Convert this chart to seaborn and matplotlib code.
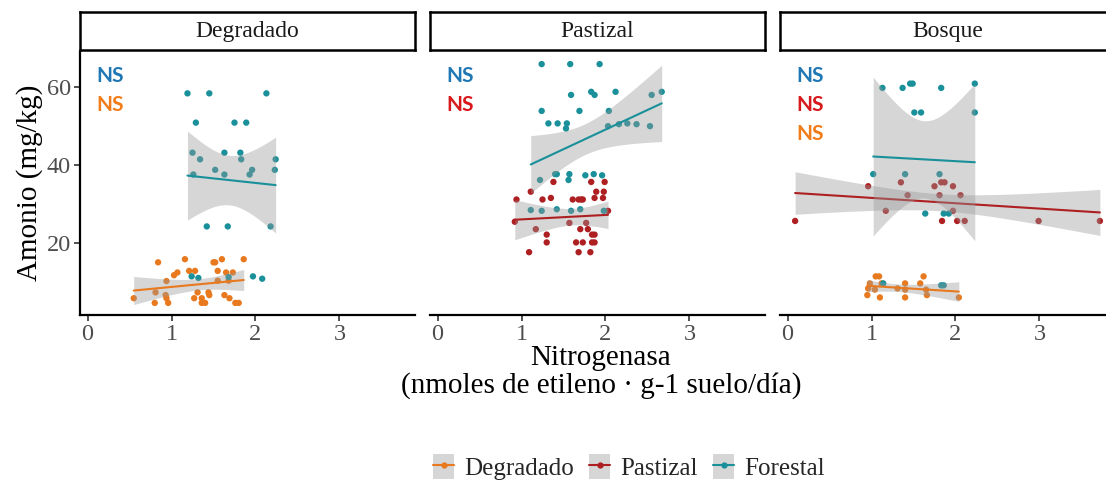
import numpy as np
import pandas as pd
import matplotlib
matplotlib.use("Agg")
import matplotlib.pyplot as plt
import seaborn as sns
from matplotlib.patches import Patch
from matplotlib.lines import Line2D
from matplotlib.legend_handler import HandlerTuple

# ---------------- data ----------------
panels = ["Degradado", "Pastizal", "Bosque"]
groups = ["Degradado", "Pastizal", "Forestal"]

# Panel "Degradado"
deg_degradado_x = [0.84, 1.16, 1.50, 1.52, 1.60, 1.86, 1.07, 1.03, 1.21, 1.28, 1.55, 1.65, 1.73, 0.94, 1.55, 1.68,
                   0.55, 0.81, 0.93, 0.94, 0.80, 0.96, 1.31, 1.27, 1.36, 1.44, 1.45, 1.36, 1.40, 1.63, 1.69, 1.76, 1.80]
deg_degradado_y = [15.1, 15.9, 15.1, 15.1, 15.9, 15.9, 12.5, 11.8, 12.9, 12.9, 12.9, 12.5, 12.5, 10.3, 10.4, 10.4,
                   5.9, 7.4, 6.7, 5.9, 4.7, 4.7, 7.4, 5.9, 5.9, 7.4, 6.7, 4.7, 4.7, 6.7, 5.9, 4.7, 4.7]
deg_forestal_x = [1.19, 1.45, 2.13, 1.29, 1.75, 1.89, 1.25, 1.34, 1.63, 1.82, 1.83, 2.24, 1.26, 1.52, 1.63, 1.93,
                  1.96, 2.23, 1.42, 1.67, 2.18, 1.24, 1.32, 1.68, 1.97, 2.08]
deg_forestal_y = [58.4, 58.4, 58.4, 50.9, 50.9, 50.9, 43.2, 41.5, 43.2, 43.2, 41.5, 41.5, 37.6, 38.8, 37.6, 37.6,
                  38.8, 38.8, 24.3, 24.3, 24.3, 11.5, 11.1, 11.3, 11.5, 10.9]

# Panel "Pastizal"
pas_pastizal_x = [1.38, 1.83, 1.99, 1.11, 1.89, 1.98, 0.94, 1.25, 1.35, 1.61, 1.68, 1.71, 1.73, 1.87, 1.97, 0.92,
                  1.17, 1.57, 1.77, 1.70, 1.79, 2.03, 1.30, 1.30, 1.65, 1.73, 1.84, 1.87, 1.84, 1.87, 1.09, 1.68, 1.82]
pas_pastizal_y = [35.7, 35.7, 35.7, 33.2, 33.2, 33.2, 31.2, 31.2, 31.6, 31.2, 31.2, 31.2, 31.2, 31.6, 31.6, 25.5,
                  23.6, 25.2, 25.2, 23.6, 23.6, 28.3, 22.2, 20.2, 20.2, 20.2, 22.2, 22.2, 20.2, 20.2, 17.7, 17.7, 17.7]
pas_forestal_x = [1.24, 1.58, 1.93, 1.59, 1.83, 1.87, 2.12, 2.55, 2.67, 1.24, 1.69, 2.04, 1.32, 1.43, 1.53, 1.54,
                  2.03, 2.16, 2.26, 2.37, 2.53, 1.22, 1.40, 1.42, 1.57, 1.56, 1.76, 1.86, 1.96, 1.11, 1.24, 1.42,
                  1.59, 1.70, 1.98]
pas_forestal_y = [65.9, 65.9, 65.9, 58.0, 58.8, 58.0, 58.8, 58.0, 58.8, 53.9, 53.9, 53.9, 50.7, 50.7, 49.4, 50.7,
                  50.0, 50.5, 50.7, 50.5, 50.0, 36.2, 37.7, 37.7, 37.7, 36.2, 37.4, 37.7, 37.4, 28.5, 28.3, 28.7,
                  28.3, 28.7, 28.3]

# Panel "Bosque"
bos_degradado_x = [1.05, 1.09, 1.62, 0.98, 1.12, 1.40, 1.58, 0.96, 1.04, 1.31, 1.40, 1.65, 0.95, 1.10, 1.40, 1.66, 2.04]
bos_degradado_y = [11.5, 11.5, 11.5, 9.7, 9.7, 9.7, 9.7, 8.4, 8.1, 8.4, 8.1, 8.1, 6.7, 6.1, 6.1, 6.7, 6.1]
bos_pastizal_x = [0.09, 0.96, 1.35, 1.75, 1.83, 1.87, 1.97, 1.43, 1.81, 2.06, 1.17, 1.97, 1.84, 2.02, 2.11, 2.99, 3.72]
bos_pastizal_y = [25.7, 34.6, 35.6, 34.6, 35.6, 35.6, 34.6, 32.3, 32.3, 32.3, 28.3, 28.3, 25.7, 25.7, 25.7, 25.7, 25.7]
bos_forestal_x = [1.13, 1.37, 1.46, 1.49, 1.83, 2.23, 1.51, 1.59, 2.23, 1.02, 1.40, 1.81, 1.64, 1.86, 1.92,
                  1.14, 1.83, 1.86]
bos_forestal_y = [59.8, 59.8, 60.9, 60.9, 59.8, 60.9, 53.5, 53.5, 53.5, 37.7, 37.7, 37.7, 27.6, 27.6, 27.6,
                  9.7, 9.2, 9.2]

x_ticks = [0, 1, 2, 3]
y_ticks = [20, 40, 60]
ns_labels = {"Degradado": ["Forestal", "Degradado"],
             "Pastizal": ["Forestal", "Pastizal"],
             "Bosque": ["Forestal", "Pastizal", "Degradado"]}

# ---------------- build table ----------------
series = [
    ("Degradado", "Degradado", deg_degradado_x, deg_degradado_y),
    ("Degradado", "Forestal", deg_forestal_x, deg_forestal_y),
    ("Pastizal", "Pastizal", pas_pastizal_x, pas_pastizal_y),
    ("Pastizal", "Forestal", pas_forestal_x, pas_forestal_y),
    ("Bosque", "Degradado", bos_degradado_x, bos_degradado_y),
    ("Bosque", "Pastizal", bos_pastizal_x, bos_pastizal_y),
    ("Bosque", "Forestal", bos_forestal_x, bos_forestal_y),
]
rows = []
for p, g, xs, ys in series:
    for a, b in zip(xs, ys):
        rows.append({"panel": p, "grupo": g, "x": a, "y": b})
df = pd.DataFrame(rows)

# ---------------- styling ----------------
sns.set_theme(style="white")
plt.rcParams["font.family"] = ["Liberation Serif", "DejaVu Serif"]

pt_colors = {"Degradado": "#E8791E", "Pastizal": "#AE1F22", "Forestal": "#19909A"}
ns_colors = {"Degradado": "#F07D1A", "Pastizal": "#D7191C", "Forestal": "#1F78B4"}

W, H = 1106, 483
fig = plt.figure(figsize=(W / 100, H / 100), dpi=100)

def fx(px):
    return px / W

def fy(py):
    return 1 - py / H

ax_left = [80, 430, 780]
ax_w = 335
top_px, bot_px = 52, 315
strip_top, strip_bot = 12, 50


def t975(dfree):
    z = 1.959964
    g1 = (z ** 3 + z) / 4
    g2 = (5 * z ** 5 + 16 * z ** 3 + 3 * z) / 96
    g3 = (3 * z ** 7 + 19 * z ** 5 + 17 * z ** 3 - 15 * z) / 384
    return z + g1 / dfree + g2 / dfree ** 2 + g3 / dfree ** 3


for i, p in enumerate(panels):
    ax = fig.add_axes([fx(ax_left[i]), fy(bot_px), fx(ax_w), (bot_px - top_px) / H])
    sub = df[df.panel == p]
    sns.scatterplot(data=sub, x="x", y="y", hue="grupo", palette=pt_colors, s=21, linewidth=0,
                    legend=False, ax=ax, zorder=2)
    z = 3
    for g in groups:
        d = sub[sub.grupo == g]
        if d.empty:
            continue
        xs = d.x.to_numpy()
        ys = d.y.to_numpy()
        n = len(xs)
        b1, b0 = np.polyfit(xs, ys, 1)
        grid = np.linspace(xs.min(), xs.max(), 80)
        fit = b0 + b1 * grid
        resid = ys - (b0 + b1 * xs)
        s = np.sqrt(np.sum(resid ** 2) / (n - 2))
        sxx = np.sum((xs - xs.mean()) ** 2)
        se = s * np.sqrt(1 / n + (grid - xs.mean()) ** 2 / sxx)
        tq = t975(n - 2)
        ax.fill_between(grid, fit - tq * se, fit + tq * se, color="#999999", alpha=0.4,
                        linewidth=0, zorder=z)
        sns.lineplot(x=grid, y=fit, color=pt_colors[g], linewidth=1.5, ax=ax, zorder=z + 1)
        z += 2

    ax.set_xlim(-0.09, 3.90)
    ax.set_ylim(1.6, 69.0)
    ax.set_xticks(x_ticks)
    ax.set_xticklabels([str(t) for t in x_ticks], fontsize=17.5, color="#4D4D4D")
    ax.set_xlabel("")
    ax.set_ylabel("")
    for side in ["top", "right"]:
        ax.spines[side].set_visible(False)
    ax.spines["bottom"].set_color("black")
    ax.spines["bottom"].set_linewidth(1.6)
    ax.tick_params(axis="x", length=4.5, width=1.2, color="#333333", pad=2, bottom=True)
    if i == 0:
        ax.set_yticks(y_ticks)
        ax.set_yticklabels([str(t) for t in y_ticks], fontsize=17.5, color="#4D4D4D")
        ax.spines["left"].set_color("black")
        ax.spines["left"].set_linewidth(1.6)
        ax.tick_params(axis="y", length=4.5, width=1.2, color="#333333", pad=2, left=True)
    else:
        ax.set_yticks([])
        ax.spines["left"].set_visible(False)
    ax.grid(False)
    ax.set_facecolor("white")

    # significance labels
    for k, g in enumerate(ns_labels[p]):
        ax.text(0.05, 0.91 - k * 0.11, "NS", transform=ax.transAxes, ha="left", va="center",
                fontsize=15, fontweight="bold", family="Lato", color=ns_colors[g], zorder=10)

    # strip
    sax = fig.add_axes([fx(ax_left[i]), fy(strip_bot), fx(ax_w), (strip_bot - strip_top) / H])
    sax.set_xticks([])
    sax.set_yticks([])
    sax.set_facecolor("white")
    for sp in sax.spines.values():
        sp.set_visible(True)
        sp.set_color("black")
        sp.set_linewidth(1.8)
    sax.text(0.5, 0.48, p, ha="center", va="center", fontsize=17, color="#1A1A1A",
             transform=sax.transAxes)

# axis titles
fig.text(fx(30), fy(183), "Amonio (mg/kg)", rotation=90, ha="center", va="center", fontsize=21,
         color="black")
fig.text(fx(601), fy(372), "Nitrogenasa\n(nmoles de etileno · g-1 suelo/día)", ha="center",
         va="center", fontsize=21, color="black", multialignment="center", linespacing=1.05)

# legend
handles = [(Patch(facecolor="#D6D6D6", edgecolor="none"),
            Line2D([], [], color=pt_colors[g], marker="o", markersize=3.5, linewidth=1.5))
           for g in groups]
fig.legend(handles, groups, handler_map={tuple: HandlerTuple(ndivide=1, pad=0)},
           loc="center", bbox_to_anchor=(fx(629), fy(467)), ncol=3, frameon=False,
           fontsize=18, handlelength=0.85, handleheight=1.15, handletextpad=0.4,
           columnspacing=0.6, borderaxespad=0)

fig.savefig("out.png", dpi=100, facecolor="white")
